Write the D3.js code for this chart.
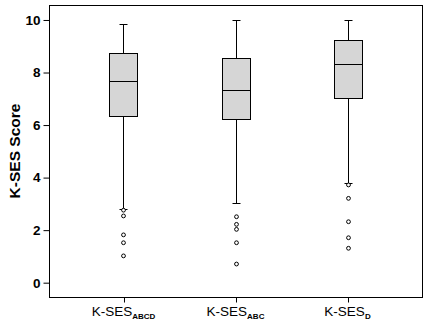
<!DOCTYPE html>
<html>
<head>
<meta charset="utf-8">
<script src="https://cdn.jsdelivr.net/npm/d3@7"></script>
<style>
  html, body { margin: 0; padding: 0; background: #fff; }
  svg { display: block; }
</style>
</head>
<body>
<svg id="chart" width="427" height="326"></svg>
<script>
// Score groups and their box-plot summaries
const groupPrefix = "K-SES";
const categories = ["ABCD", "ABC", "D"];
const whiskerLow  = [2.82, 3.03, 3.81];
const q1          = [6.33, 6.23, 7.02];
const median      = [7.67, 7.32, 8.33];
const q3          = [8.73, 8.54, 9.23];
const whiskerHigh = [9.84, 10.0, 10.0];
const outliers = [
  [2.76, 2.54, 1.82, 1.52, 1.02],
  [2.51, 2.22, 2.03, 1.52, 0.71],
  [3.72, 3.21, 2.32, 1.71, 1.31]
];
const yTicks = [0, 2, 4, 6, 8, 10];
const yLabel = "K-SES Score";

const svg = d3.select("#chart");
const frame = { left: 49, right: 422, top: 5, bottom: 297 };

const x = d3.scalePoint()
  .domain(categories)
  .range([frame.left, frame.right])
  .padding(0.665);

const y = d3.scaleLinear()
  .domain([-0.545, 10.57])
  .range([frame.bottom, frame.top]);

const boxW = 28, capW = 8;
const font = "'Liberation Sans', Arial, Helvetica, sans-serif";

const groups = categories.map((c, i) => ({
  key: c,
  lo: whiskerLow[i], q1: q1[i], med: median[i], q3: q3[i], hi: whiskerHigh[i],
  out: outliers[i]
}));

const cx = d => Math.round(x(d.key)) + 0.5;
const py = v => Math.round(y(v)) + 0.5;

// Boxes, whiskers and caps
const g = svg.append("g").attr("stroke", "#000").attr("stroke-width", 1);
const box = g.selectAll("g.box").data(groups).join("g").attr("class", "box");

box.append("line")
  .attr("x1", cx).attr("x2", cx)
  .attr("y1", d => py(d.hi)).attr("y2", d => py(d.q3));
box.append("line")
  .attr("x1", cx).attr("x2", cx)
  .attr("y1", d => py(d.q1)).attr("y2", d => py(d.lo));
box.append("line")
  .attr("x1", d => cx(d) - capW / 2).attr("x2", d => cx(d) + capW / 2)
  .attr("y1", d => py(d.hi)).attr("y2", d => py(d.hi));
box.append("line")
  .attr("x1", d => cx(d) - capW / 2).attr("x2", d => cx(d) + capW / 2)
  .attr("y1", d => py(d.lo)).attr("y2", d => py(d.lo));
box.append("rect")
  .attr("x", d => cx(d) - boxW / 2)
  .attr("width", boxW)
  .attr("y", d => py(d.q3))
  .attr("height", d => py(d.q1) - py(d.q3))
  .attr("fill", "#d6d6d6");
box.append("line")
  .attr("x1", d => cx(d) - boxW / 2).attr("x2", d => cx(d) + boxW / 2)
  .attr("y1", d => py(d.med)).attr("y2", d => py(d.med));

// Outlier markers
box.selectAll("circle")
  .data(d => d.out.map(v => ({ key: d.key, v })))
  .join("circle")
  .attr("cx", cx)
  .attr("cy", d => y(d.v))
  .attr("r", 1.9)
  .attr("fill", "#fff");

// Plot frame
svg.append("rect")
  .attr("x", frame.left + 0.5).attr("y", frame.top + 0.5)
  .attr("width", frame.right - frame.left).attr("height", frame.bottom - frame.top)
  .attr("fill", "none").attr("stroke", "#000");

// Y axis
const yAxis = svg.append("g")
  .attr("transform", `translate(${frame.left + 0.5},0)`)
  .call(d3.axisLeft(y).tickValues(yTicks).tickSize(6).tickPadding(3));
yAxis.select(".domain").remove();
yAxis.selectAll("text")
  .attr("font-family", font).attr("font-size", 13.5).attr("font-weight", "bold").attr("fill", "#000");

// X axis
const xAxis = svg.append("g")
  .attr("transform", `translate(0,${frame.bottom + 0.5})`)
  .call(d3.axisBottom(x).tickSize(5).tickFormat(""));
xAxis.select(".domain").remove();
xAxis.selectAll(".tick line").attr("transform", "translate(0.5,0)");

const xl = svg.append("g").selectAll("text").data(categories).join("text")
  .attr("x", d => x(d))
  .attr("y", 316)
  .attr("text-anchor", "middle")
  .attr("font-family", font)
  .attr("font-size", 13.5)
  .attr("fill", "#000");
xl.append("tspan").text(groupPrefix);
xl.append("tspan").attr("dy", 3).attr("font-size", 8).attr("font-weight", "bold").text(d => d);

// Y label
svg.append("text")
  .attr("transform", `translate(19.5,${(frame.top + frame.bottom) / 2}) rotate(-90)`)
  .attr("text-anchor", "middle")
  .attr("font-family", font).attr("font-size", 15.5).attr("font-weight", "bold")
  .attr("fill", "#000")
  .text(yLabel);
</script>
</body>
</html>
